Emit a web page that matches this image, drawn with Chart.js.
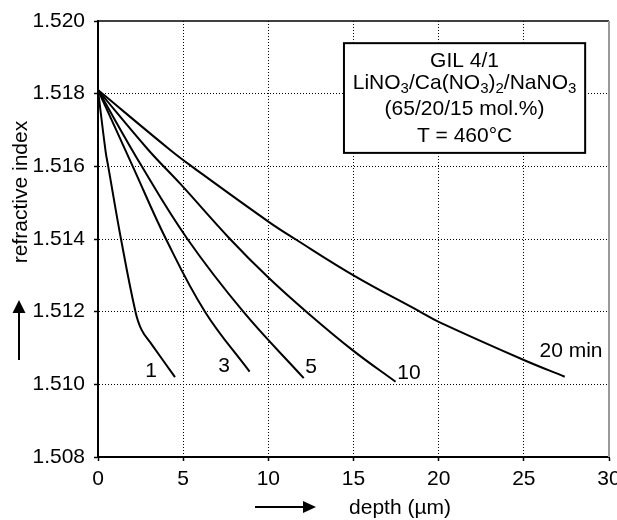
<!DOCTYPE html>
<html>
<head>
<meta charset="utf-8">
<script src="https://cdn.jsdelivr.net/npm/chart.js@4"></script>
<style>
html, body { margin: 0; padding: 0; background: #fff; }
</style>
</head>
<body>
<canvas id="chart" width="617" height="520"></canvas>
<script>
// depth (um) / refractive index per exchange time
let depth1 = [0, 0.45, 0.6, 1.35, 2.2, 2.56, 3.15, 4.52];
let index1 = [1.5181, 1.5164, 1.5160, 1.5140, 1.5120, 1.5115, 1.5111, 1.5102];
let depth3 = [0, 2.04, 3.99, 6.28, 8.9];
let index3 = [1.5181, 1.5160, 1.5140, 1.5120, 1.51035];
let depth5 = [0, 2.57, 5.25, 8.53, 12.08];
let index5 = [1.5181, 1.5160, 1.5140, 1.5120, 1.51017];
let depth10 = [0, 2.96, 4.81, 7.75, 10, 12.4, 15, 17.47];
let index10 = [1.5181, 1.51645, 1.51553, 1.5140, 1.51294, 1.51193, 1.51092, 1.51007];
let depth20 = [0, 4.24, 5.5, 10, 11.57, 15, 18.9, 20, 25, 27.4];
let index20 = [1.5181, 1.51645, 1.5160, 1.51448, 1.5140, 1.5130, 1.5120, 1.51172, 1.51067, 1.51021];

let curveLabels = ["1", "3", "5", "10", "20 min"];
let boxLines = ["GIL 4/1", "LiNO_3/Ca(NO_3)_2/NaNO_3", "(65/20/15 mol.%)", "T = 460°C"];
let xTitle = "depth (µm)";
let yTitle = "refractive index";

// where the labels sit, in data units
let labelAtX = [3.11, 7.40, 12.51, 18.26, 27.77];
let labelAtY = [1.51035, 1.51051, 1.51046, 1.51031, 1.5109];
let boxAtX = [14.44, 28.6];
let boxAtY = [1.51939, 1.51637];
let boxLineY = [1.51889, 1.51829, 1.51756, 1.51683];

const FONT_FAMILY = "'Liberation Sans', Arial, sans-serif";
const FONT = "21px " + FONT_FAMILY;

function series(xs, ys) {
  return {
    data: xs.map((d, i) => ({x: d, y: ys[i]})),
    borderColor: "#000",
    borderWidth: 2,
    pointRadius: 0,
    fill: false,
    tension: 0.4
  };
}

// text with _n subscripts
function drawRich(ctx, text, cx, cy) {
  const parts = text.split(/_(\d)/);
  const fonts = parts.map((p, i) => i % 2 ? "15px " + FONT_FAMILY : FONT);
  let w = 0;
  parts.forEach((p, i) => { ctx.font = fonts[i]; w += ctx.measureText(p).width; });
  let px = cx - w / 2;
  ctx.textAlign = "left";
  parts.forEach((p, i) => {
    ctx.font = fonts[i];
    ctx.fillText(p, px, i % 2 ? cy + 6 : cy);
    px += ctx.measureText(p).width;
  });
}

const decor = {
  id: "decor",
  afterDatasetsDraw(chart) {
    const {ctx, chartArea: a, scales: {x, y}} = chart;
    ctx.save();

    // frame top + right
    ctx.strokeStyle = "#000";
    ctx.lineWidth = 1.5;
    ctx.beginPath();
    ctx.moveTo(a.left, a.top);
    ctx.lineTo(a.right, a.top);
    ctx.stroke();
    ctx.strokeStyle = "#999";
    ctx.lineWidth = 2;
    ctx.beginPath();
    ctx.moveTo(a.right, a.top);
    ctx.lineTo(a.right, a.bottom);
    ctx.stroke();

    ctx.fillStyle = "#000";
    ctx.font = FONT;
    ctx.textAlign = "center";
    ctx.textBaseline = "middle";
    curveLabels.forEach((t, i) => {
      ctx.fillText(t, x.getPixelForValue(labelAtX[i]), y.getPixelForValue(labelAtY[i]));
    });

    // info box
    const bx1 = x.getPixelForValue(boxAtX[0]), bx2 = x.getPixelForValue(boxAtX[1]);
    const by1 = y.getPixelForValue(boxAtY[0]), by2 = y.getPixelForValue(boxAtY[1]);
    ctx.fillStyle = "#fff";
    ctx.fillRect(bx1, by1, bx2 - bx1, by2 - by1);
    ctx.strokeStyle = "#000";
    ctx.lineWidth = 2;
    ctx.strokeRect(bx1, by1, bx2 - bx1, by2 - by1);
    ctx.fillStyle = "#000";
    const cx = (bx1 + bx2) / 2;
    boxLines.forEach((t, i) => drawRich(ctx, t, cx, y.getPixelForValue(boxLineY[i])));

    // axis titles with arrows
    ctx.font = FONT;
    ctx.textAlign = "center";
    ctx.fillText(xTitle, 400, 508);
    ctx.save();
    ctx.translate(21, 192);
    ctx.rotate(-Math.PI / 2);
    ctx.fillText(yTitle, 0, 0);
    ctx.restore();

    ctx.strokeStyle = "#000";
    ctx.lineWidth = 2;
    ctx.beginPath();
    ctx.moveTo(255, 507); ctx.lineTo(305, 507);
    ctx.moveTo(19, 360); ctx.lineTo(19, 310);
    ctx.stroke();
    ctx.beginPath();
    ctx.moveTo(303, 501); ctx.lineTo(316, 507); ctx.lineTo(303, 513); ctx.closePath();
    ctx.moveTo(12.5, 313); ctx.lineTo(19, 300); ctx.lineTo(25.5, 313); ctx.closePath();
    ctx.fill();

    ctx.restore();
  }
};

const gridColor = (edge) => (c) => (c.tick && edge.includes(c.tick.value)) ? "rgba(0,0,0,0)" : "#000";

new Chart(document.getElementById("chart"), {
  type: "line",
  data: {
    datasets: [
      series(depth1, index1),
      series(depth3, index3),
      series(depth5, index5),
      series(depth10, index10),
      series(depth20, index20)
    ]
  },
  options: {
    responsive: false,
    animation: false,
    layout: { padding: { left: 0, top: 21, right: 8, bottom: 0 } },
    plugins: { legend: { display: false }, tooltip: { enabled: false } },
    scales: {
      x: {
        type: "linear",
        min: 0, max: 30,
        ticks: { stepSize: 5, color: "#000", font: { family: FONT_FAMILY, size: 21 }, padding: 6, maxRotation: 0 },
        grid: { color: gridColor([0, 30]), lineWidth: 1, tickLength: 4, tickColor: "#000", tickWidth: 1.5, tickBorderDash: [] },
        border: { display: true, color: "#000", width: 2, dash: [1, 2] },
        afterFit(s) { s.height = 63; s.paddingLeft = 0; s.paddingRight = 0; }
      },
      y: {
        min: 1.508, max: 1.520,
        ticks: { stepSize: 0.002, color: "#000", font: { family: FONT_FAMILY, size: 21 }, padding: 9,
                 callback: v => v.toFixed(3) },
        grid: { color: gridColor([1.508, 1.52]), lineWidth: 1, tickLength: 4, tickColor: "#000", tickWidth: 1.5, tickBorderDash: [] },
        border: { display: true, color: "#000", width: 2, dash: [1, 2] },
        afterFit(s) { s.width = 98; s.paddingTop = 0; s.paddingBottom = 0; }
      }
    }
  },
  plugins: [decor]
});
</script>
</body>
</html>
